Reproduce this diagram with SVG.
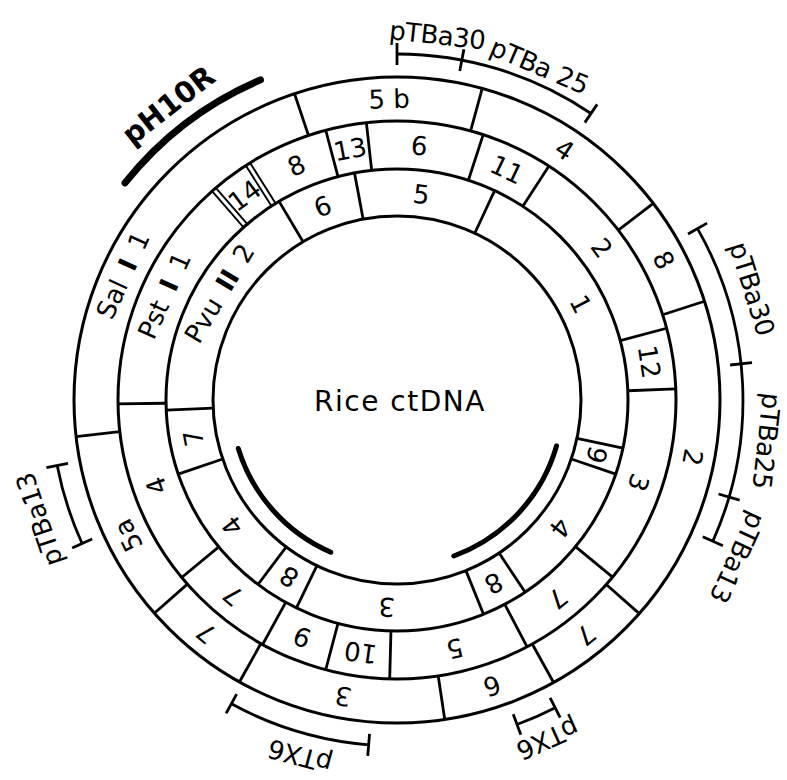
<svg xmlns="http://www.w3.org/2000/svg" width="787" height="780" viewBox="0 0 787 780">
<style>
.c{fill:none;stroke:#000;stroke-width:3}
.d{stroke:#000;stroke-width:2.8}
.dd{stroke:#000;stroke-width:1.9}
.br{fill:none;stroke:#000;stroke-width:2.8}
.thick{fill:none;stroke:#000;stroke-linecap:round}
.t{font-family:"DejaVu Sans",sans-serif;font-size:26px;text-anchor:middle;dominant-baseline:central;fill:#000}
.o{font-family:"DejaVu Sans",sans-serif;font-size:26px;text-anchor:middle;dominant-baseline:central;fill:#000;letter-spacing:-0.5px}
</style>
<rect width="787" height="780" fill="#fff"/>
<g id="rings">
<circle class="c" cx="397" cy="400" r="323"/>
<circle class="c" cx="397" cy="400" r="279"/>
<circle class="c" cx="397" cy="400" r="231"/>
<circle class="c" cx="397" cy="400" r="184"/>
</g>
<g id="connectors">
<g id="sal-dividers">
<line class="d" x1="397" y1="77" x2="397" y2="121" transform="rotate(-18.5 397 400)"/>
<line class="d" x1="397" y1="77" x2="397" y2="121" transform="rotate(15.3 397 400)"/>
<line class="d" x1="397" y1="77" x2="397" y2="121" transform="rotate(52.5 397 400)"/>
<line class="d" x1="397" y1="77" x2="397" y2="121" transform="rotate(72.2 397 400)"/>
<line class="d" x1="397" y1="77" x2="397" y2="121" transform="rotate(131.4 397 400)"/>
<line class="d" x1="397" y1="77" x2="397" y2="121" transform="rotate(151 397 400)"/>
<line class="d" x1="397" y1="77" x2="397" y2="121" transform="rotate(171.5 397 400)"/>
<line class="d" x1="397" y1="77" x2="397" y2="121" transform="rotate(209.2 397 400)"/>
<line class="d" x1="397" y1="77" x2="397" y2="121" transform="rotate(228.7 397 400)"/>
<line class="d" x1="397" y1="77" x2="397" y2="121" transform="rotate(263.5 397 400)"/>
</g>
<g id="pst-dividers">
<line class="dd" x1="394.5" y1="121" x2="394.5" y2="169" transform="rotate(-41 397 400)"/>
<line class="dd" x1="399.5" y1="121" x2="399.5" y2="169" transform="rotate(-41 397 400)"/>
<line class="dd" x1="394.5" y1="121" x2="394.5" y2="169" transform="rotate(-32.3 397 400)"/>
<line class="dd" x1="399.5" y1="121" x2="399.5" y2="169" transform="rotate(-32.3 397 400)"/>
<line class="d" x1="397" y1="121" x2="397" y2="169" transform="rotate(-14.8 397 400)"/>
<line class="d" x1="397" y1="121" x2="397" y2="169" transform="rotate(-6.3 397 400)"/>
<line class="d" x1="397" y1="121" x2="397" y2="169" transform="rotate(18 397 400)"/>
<line class="d" x1="397" y1="121" x2="397" y2="169" transform="rotate(33 397 400)"/>
<line class="d" x1="397" y1="121" x2="397" y2="169" transform="rotate(75.1 397 400)"/>
<line class="d" x1="397" y1="121" x2="397" y2="169" transform="rotate(87.7 397 400)"/>
<line class="d" x1="397" y1="121" x2="397" y2="169" transform="rotate(129.4 397 400)"/>
<line class="d" x1="397" y1="121" x2="397" y2="169" transform="rotate(152.2 397 400)"/>
<line class="d" x1="397" y1="121" x2="397" y2="169" transform="rotate(181.5 397 400)"/>
<line class="d" x1="397" y1="121" x2="397" y2="169" transform="rotate(194.8 397 400)"/>
<line class="d" x1="397" y1="121" x2="397" y2="169" transform="rotate(208.8 397 400)"/>
<line class="d" x1="397" y1="121" x2="397" y2="169" transform="rotate(230.5 397 400)"/>
<line class="d" x1="397" y1="121" x2="397" y2="169" transform="rotate(269.2 397 400)"/>
</g>
<g id="pvu-dividers">
<line class="d" x1="397" y1="169" x2="397" y2="216" transform="rotate(-30.7 397 400)"/>
<line class="d" x1="397" y1="169" x2="397" y2="216" transform="rotate(-10.6 397 400)"/>
<line class="d" x1="397" y1="169" x2="397" y2="216" transform="rotate(25 397 400)"/>
<line class="d" x1="397" y1="169" x2="397" y2="216" transform="rotate(102 397 400)"/>
<line class="d" x1="397" y1="169" x2="397" y2="216" transform="rotate(108.7 397 400)"/>
<line class="d" x1="397" y1="169" x2="397" y2="216" transform="rotate(146.3 397 400)"/>
<line class="d" x1="397" y1="169" x2="397" y2="216" transform="rotate(158 397 400)"/>
<line class="d" x1="397" y1="169" x2="397" y2="216" transform="rotate(205.8 397 400)"/>
<line class="d" x1="397" y1="169" x2="397" y2="216" transform="rotate(217 397 400)"/>
<line class="d" x1="397" y1="169" x2="397" y2="216" transform="rotate(251.3 397 400)"/>
<line class="d" x1="397" y1="169" x2="397" y2="216" transform="rotate(267.5 397 400)"/>
</g>
</g>
<g id="sal-labels">
<text class="t" x="397" y="99" transform="rotate(-1.5 397 400)">5 b</text>
<text class="t" x="397" y="99" transform="rotate(33.8 397 400)">4</text>
<text class="t" x="397" y="99" transform="rotate(62.3 397 400)">8</text>
<text class="t" x="397" y="99" transform="rotate(101 397 400)">2</text>
<text class="t" x="397" y="99" transform="rotate(141.2 397 400)">7</text>
<text class="t" x="397" y="99" transform="rotate(161.6 397 400)">6</text>
<text class="t" x="397" y="99" transform="rotate(190.3 397 400)">3</text>
<text class="t" x="397" y="99" transform="rotate(219.3 397 400)">7</text>
<text class="t" x="397" y="99" transform="rotate(243.3 397 400)">5a</text>
<text class="t" x="397" y="99" transform="rotate(294.5 397 400)" style="word-spacing:5px">Sal <tspan font-weight="bold">I</tspan> 1</text>
</g>
<g id="pst-labels">
<text class="t" x="397" y="145" transform="rotate(294.2 397 400)" style="word-spacing:5px">Pst <tspan font-weight="bold">I</tspan> 1</text>
<text class="t" x="397" y="145" transform="rotate(-36.7 397 400)">14</text>
<text class="t" x="397" y="145" transform="rotate(-23.2 397 400)">8</text>
<text class="t" x="397" y="145" transform="rotate(-10.6 397 400)">13</text>
<text class="t" x="397" y="145" transform="rotate(5 397 400)">6</text>
<text class="t" x="397" y="145" transform="rotate(25.5 397 400)">11</text>
<text class="t" x="397" y="145" transform="rotate(53.4 397 400)">2</text>
<text class="t" x="397" y="145" transform="rotate(81.4 397 400)">12</text>
<text class="t" x="397" y="145" transform="rotate(108.9 397 400)">3</text>
<text class="t" x="397" y="145" transform="rotate(141 397 400)">7</text>
<text class="t" x="397" y="145" transform="rotate(166.9 397 400)">5</text>
<text class="t" x="397" y="145" transform="rotate(188.2 397 400)">10</text>
<text class="t" x="397" y="145" transform="rotate(201.8 397 400)">9</text>
<text class="t" x="397" y="145" transform="rotate(220 397 400)">7</text>
<text class="t" x="397" y="145" transform="rotate(250.4 397 400)">4</text>
</g>
<g id="pvu-labels">
<text class="t" x="397" y="193" transform="rotate(301 397 400)" style="word-spacing:5px">Pvu <tspan font-weight="bold">II</tspan> 2</text>
<text class="t" x="397" y="193" transform="rotate(-21 397 400)">6</text>
<text class="t" x="397" y="193" transform="rotate(6.7 397 400)">5</text>
<text class="t" x="397" y="193" transform="rotate(62.4 397 400)">1</text>
<text class="t" x="397" y="193" transform="rotate(105.4 397 400)">9</text>
<text class="t" x="397" y="193" transform="rotate(128.1 397 400)">4</text>
<text class="t" x="397" y="193" transform="rotate(152.2 397 400)">8</text>
<text class="t" x="397" y="193" transform="rotate(182.8 397 400)">3</text>
<text class="t" x="397" y="193" transform="rotate(211.4 397 400)">8</text>
<text class="t" x="397" y="193" transform="rotate(232.6 397 400)">4</text>
<text class="t" x="397" y="193" transform="rotate(259.4 397 400)">7</text>
</g>
<g id="center">
<text x="400" y="401" style="font-family:'DejaVu Sans',sans-serif;font-size:28px;text-anchor:middle;dominant-baseline:central;letter-spacing:1.5px">Rice ctDNA</text>
<path class="thick" stroke-width="5" d="M330.8,552.2 A166,166 0 0 1 238.3,448.5"/>
<path class="thick" stroke-width="5" d="M556.6,445.8 A166,166 0 0 1 453.8,556.0"/>
</g>
<g id="pH10R">
<path class="thick" stroke-width="7" d="M125,182.9 A348,348 0 0 1 260.5,79.9"/>
<text x="397" y="27" transform="rotate(-37.8 397 400)" style="font-family:'DejaVu Sans',sans-serif;font-size:29px;font-weight:bold;text-anchor:middle;dominant-baseline:central">pH10R</text>
</g>
<g id="brackets">
<g id="top-bracket">
<path class="br" d="M397,54 A346,346 0 0 1 591.0,113.5"/>
<line class="d" x1="397" y1="43" x2="397" y2="65"/>
<line class="d" x1="397" y1="43" x2="397" y2="65" transform="rotate(10.8 397 400)"/>
<line class="d" x1="397" y1="43" x2="397" y2="65" transform="rotate(34.1 397 400)"/>
<text class="o" x="397" y="33" transform="rotate(6.3 397 400)">pTBa30</text>
<text class="o" x="397" y="37" transform="rotate(23.1 397 400)">pTBa 25</text>
</g>
<g id="right-bracket">
<path class="br" d="M697.5,228.6 A346,346 0 0 1 712.8,541.3"/>
<line class="d" x1="397" y1="43" x2="397" y2="65" transform="rotate(60.3 397 400)"/>
<line class="d" x1="397" y1="43" x2="397" y2="65" transform="rotate(84 397 400)"/>
<line class="d" x1="397" y1="43" x2="397" y2="65" transform="rotate(106.3 397 400)"/>
<line class="d" x1="397" y1="43" x2="397" y2="65" transform="rotate(114.1 397 400)"/>
<text class="o" x="397" y="28" transform="rotate(72.6 397 400)">pTBa30</text>
<text class="o" x="397" y="28" transform="rotate(96.3 397 400)">pTBa25</text>
<text class="o" x="397" y="25" transform="rotate(114.8 397 400)">pTBa13</text>
</g>
<g id="left-bracket">
<path class="br" d="M82.1,543.5 A346,346 0 0 1 57.2,465.4"/>
<line class="d" x1="397" y1="43" x2="397" y2="65" transform="rotate(245.5 397 400)"/>
<line class="d" x1="397" y1="43" x2="397" y2="65" transform="rotate(259.1 397 400)"/>
<text class="o" x="397" y="23" transform="rotate(251.5 397 400)">pTBa13</text>
</g>
<g id="bottom-bracket">
<path class="br" d="M231.4,703.8 A346,346 0 0 0 368.7,744.8"/>
<line class="d" x1="397" y1="43" x2="397" y2="65" transform="rotate(184.7 397 400)"/>
<line class="d" x1="397" y1="43" x2="397" y2="65" transform="rotate(208.6 397 400)"/>
<text class="o" x="397" y="31" transform="rotate(195.2 397 400)">pTX6</text>
</g>
<g id="bottom-right-bracket">
<path class="br" d="M555.2,707.7 A346,346 0 0 1 517.0,724.5"/>
<line class="d" x1="397" y1="43" x2="397" y2="65" transform="rotate(152.8 397 400)"/>
<line class="d" x1="397" y1="43" x2="397" y2="65" transform="rotate(159.7 397 400)"/>
<text class="o" x="397" y="29" transform="rotate(156 397 400)">pTX6</text>
</g>
</g>
</svg>
